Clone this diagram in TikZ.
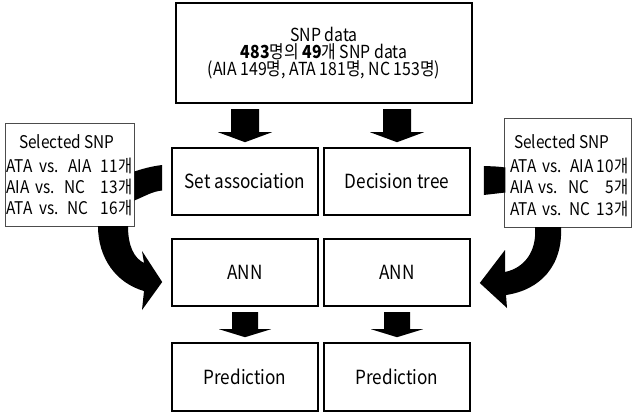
\documentclass[tikz,border=0pt]{standalone}
\usepackage{fontspec}
\setmainfont{Noto Sans CJK KR}[FakeStretch=0.88]
\usetikzlibrary{calc}
\newcommand{\wordbox}[2]{\makebox[#1pt][l]{#2}}
\begin{document}
\begin{tikzpicture}[x=1pt,y=-1pt,
  box/.style={draw=black, line width=1.6pt, inner sep=0pt, fill=white},
  sidebox/.style={draw=black!70, line width=0.8pt, inner sep=0pt, fill=white},
  blk/.style={fill=black, draw=none},
  boxtxt/.style={font=\fontsize{19.5}{22}\selectfont},
  sidetxt/.style={inner sep=0pt, font=\fontsize{17.5}{19}\selectfont},
]
\useasboundingbox (0,0) rectangle (633,413);
\fill[white] (0,0) rectangle (633,413);

% main boxes
\node[box, minimum width=296pt, minimum height=100pt, align=center,
      font=\fontsize{18}{17}\selectfont] (top) at (324,53)
  {SNP data\\ \textbf{483}명의 \textbf{49}개 SNP data\\ (AIA 149명, ATA 181명, NC 153명)};
\node[box, boxtxt, minimum width=146pt, minimum height=67pt] (sa) at (245,181.5) {Set association};
\node[box, boxtxt, minimum width=146pt, minimum height=67pt] (dt) at (397,181.5) {Decision tree};
\node[box, boxtxt, minimum width=146pt, minimum height=67pt] (ann1) at (245,272.5) {ANN};
\node[box, boxtxt, minimum width=146pt, minimum height=67pt] (ann2) at (397,272.5) {ANN};
\node[box, boxtxt, minimum width=146pt, minimum height=68pt] (pr1) at (245,377) {Prediction};
\node[box, boxtxt, minimum width=146pt, minimum height=68pt] (pr2) at (397,377) {Prediction};

% side boxes
\node[sidebox, minimum width=129pt, minimum height=103pt] (lb) at (69.5,174.5) {};
\node[sidebox, minimum width=127pt, minimum height=109pt] (rb) at (567.5,172.5) {};

% side box texts
\node[sidetxt] (l1) at (67,142) {Selected SNP};
\node[sidetxt, anchor=west] (l2) at (6,166) {\makebox[126pt]{\wordbox{33}{ATA}\wordbox{29}{vs.}AIA\hfill 11개}};
\node[sidetxt, anchor=west] (l3) at (6,187) {\makebox[126pt]{\wordbox{29}{AIA}\wordbox{29}{vs.}NC\hfill 13개}};
\node[sidetxt, anchor=west] (l4) at (6,208) {\makebox[126pt]{\wordbox{33}{ATA}\wordbox{28}{vs.}NC\hfill 16개}};
\node[sidetxt] (r1) at (562,142) {Selected SNP};
\node[sidetxt, anchor=west] (r2) at (510,166) {\makebox[118pt]{\wordbox{32}{ATA}\wordbox{28}{vs.}AIA\hfill 10개}};
\node[sidetxt, anchor=west] (r3) at (510,187) {\makebox[118pt]{\wordbox{28}{AIA}\wordbox{30}{vs.}NC\hfill 5개}};
\node[sidetxt, anchor=west] (r4) at (510,209) {\makebox[118pt]{\wordbox{32}{ATA}\wordbox{27}{vs.}NC\hfill 13개}};

% straight block arrows (down)
\foreach \n in {sa,dt}{
  \fill[blk, shift={(\n.north)}] (-14,-38) -- (14,-38) -- (14,-15) -- (27,-15)
     -- (0,-5) -- (-27,-15) -- (-14,-15) -- cycle;
}
\foreach \n in {pr1,pr2}{
  \fill[blk, shift={(\n.north)}] (-13,-30) -- (13,-30) -- (13,-13) -- (26,-13)
     -- (0,-5) -- (-26,-13) -- (-13,-13) -- cycle;
}

% left upper band (side box -> Set association)
\fill[blk] ($(lb.east)+(0,-3)$) .. controls +(12,-4) and +(-8,1) .. ($(sa.west)+(-9,-16.5)$)
   -- ($(sa.west)+(-9,9)$) .. controls +(-10,1) and +(12,-5) .. ($(lb.east)+(0,26)$) -- cycle;

% right upper band (side box -> Decision tree)
\fill[blk] ($(rb.east)-(127,0)+(1,-5)$) .. controls +(-8,-1) .. ($(dt.east)+(13,-15.5)$)
   -- ($(dt.east)+(13,13.5)$) .. controls +(10,-1) .. ($(rb.east)-(127,0)+(1,20)$) -- cycle;

% left lower curved arrow (side box -> ANN)
\coordinate (lt) at ($(ann1.west)+(-9,9.5)$);
\fill[blk] (98,226) -- (128,226) .. controls (128,246) and (134,258) .. (144,263)
   -- (142,251) -- (lt) -- (142,310) -- (144,291)
   .. controls (116,283) and (98,258) .. (98,226) -- cycle;

% right lower curved arrow (side box -> ANN)
\coordinate (rt) at ($(ann2.east)+(9,10.5)$);
\fill[blk] (535,227) -- (561,227) .. controls (563,266) and (540,290) .. (506,295)
   -- (507,308) -- (rt) -- (505,250) -- (505,272)
   .. controls (524,268) and (537,252) .. (535,227) -- cycle;
\end{tikzpicture}
\end{document}
